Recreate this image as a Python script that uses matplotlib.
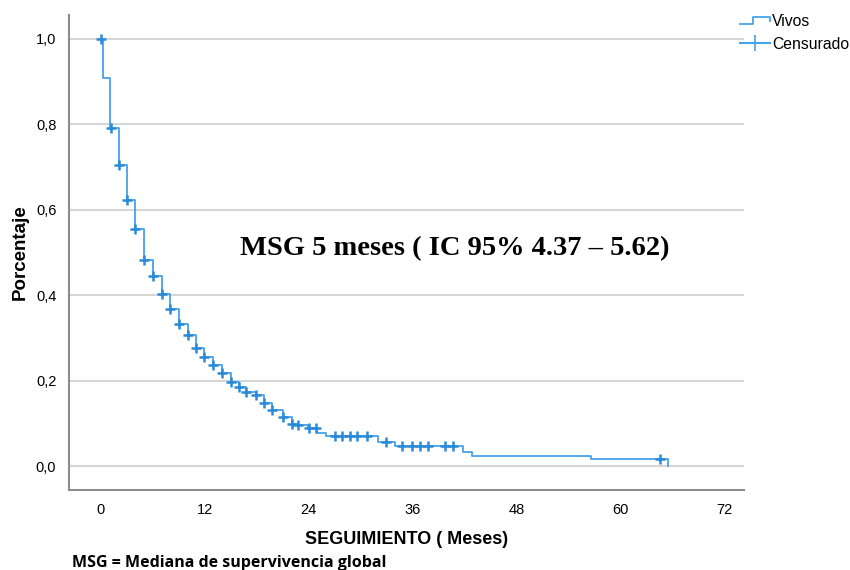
import numpy as np
import matplotlib
matplotlib.use('Agg')
import matplotlib.pyplot as plt
from matplotlib.lines import Line2D
from matplotlib.legend_handler import HandlerBase

# tiempos (meses) donde cae la curva y supervivencia despues de la caida
tiempos = [0, 0.2, 1.1, 2.1, 3.0, 3.9, 5.0, 6.0, 7.0, 8.0, 9.0, 10.1, 11.0, 11.9,
           12.9, 14.0, 15.0, 15.9, 16.8, 17.9, 18.8, 19.8, 21.0, 22.0, 22.6, 23.9,
           25.0, 26.0, 32.0, 33.9, 41.8, 42.8, 56.6, 65.4]
supervivencia = [1.0, 0.908, 0.791, 0.705, 0.623, 0.554, 0.482, 0.445, 0.403, 0.367,
                 0.333, 0.307, 0.276, 0.255, 0.237, 0.218, 0.197, 0.185, 0.173, 0.166,
                 0.148, 0.131, 0.115, 0.100, 0.096, 0.089, 0.077, 0.070, 0.056, 0.047,
                 0.033, 0.023, 0.016, 0.0]

# censurados
censurados = [0, 1.15, 2.1, 3.0, 3.9, 5.0, 6.0, 7.0, 8.0, 9.0, 10.1, 11.0, 11.9, 12.9,
              14.0, 15.0, 15.9, 16.8, 17.9, 18.8, 19.8, 21.0, 22.0, 22.8, 24.0, 24.8,
              27.0, 27.8, 28.7, 29.6, 30.7, 32.9, 34.8, 35.9, 36.8, 37.7, 39.7, 40.6,
              64.5]

xticks = [0, 12, 24, 36, 48, 60, 72]
yticks = [0.0, 0.2, 0.4, 0.6, 0.8, 1.0]
ylabels = ['0,0', '0,2', '0,4', '0,6', '0,8', '1,0']

azul = '#45a3ea'
azul_m = '#2a8ad8'


def surv_en(t):
    idx = np.searchsorted(tiempos, t, side='right') - 1
    return supervivencia[max(idx, 0)]


class StepHandler(HandlerBase):
    def create_artists(self, legend, orig_handle, xdescent, ydescent,
                       width, height, fontsize, trans):
        x0 = -xdescent
        y0 = -ydescent
        xs = [x0, x0 + 0.45 * width, x0 + 0.45 * width, x0 + width, x0 + width]
        ys = [y0 + 0.15 * height, y0 + 0.15 * height, y0 + 0.85 * height,
              y0 + 0.85 * height, y0 + 0.45 * height]
        l = Line2D(xs, ys, color=azul, lw=1.3, transform=trans)
        return [l]


plt.rcParams['font.family'] = ['Liberation Sans', 'DejaVu Sans']

fig = plt.figure(figsize=(8.5, 5.7), dpi=100)
ax = fig.add_axes([0.081, 0.14, 0.794, 0.834])

ax.plot(tiempos, supervivencia, drawstyle='steps-post', color=azul, lw=1.3, zorder=3)
ax.plot(censurados, [surv_en(c) for c in censurados], ls='none', marker='+',
        ms=7, mew=1.8, color=azul_m, zorder=4)

ax.set_xlim(-3.7, 74.2)
ax.set_ylim(-0.056, 1.056)
ax.set_xticks(xticks)
ax.set_yticks(yticks)
ax.set_yticklabels(ylabels)
ax.tick_params(length=0, labelsize=10.5, pad=9)
ax.grid(axis='y', color='#d6d6d6', lw=1.5)
ax.set_axisbelow(True)
for s in ['top', 'right']:
    ax.spines[s].set_visible(False)
for s in ['left', 'bottom']:
    ax.spines[s].set_color('#8c8c8c')
    ax.spines[s].set_linewidth(1.5)

ax.set_xlabel('SEGUIMIENTO ( Meses)', fontsize=13, fontweight='bold', labelpad=10)
ax.set_ylabel('Porcentaje', fontsize=13.5, fontweight='bold', labelpad=5)

ax.text(16.0, 0.51, 'MSG 5 meses ( IC 95% 4.37 \u2013 5.62)', fontsize=20.5,
        fontweight='bold', family='Liberation Serif', va='center', ha='left')

fig.text(0.085, 0.006, 'MSG = Mediana de supervivencia global', fontsize=11.5,
         fontweight='bold', family='Open Sans')

h1 = Line2D([], [], color=azul)
h2 = Line2D([], [], color=azul, marker='+', ms=12, mew=1.2)
fig.legend([h1, h2], ['Vivos', 'Censurado'], loc='upper left',
           bbox_to_anchor=(0.854, 1.0), frameon=False, fontsize=11.3,
           handlelength=1.9, handletextpad=0.15, labelspacing=0.5,
           handler_map={h1: StepHandler()})

fig.savefig('out.png', dpi=100)
